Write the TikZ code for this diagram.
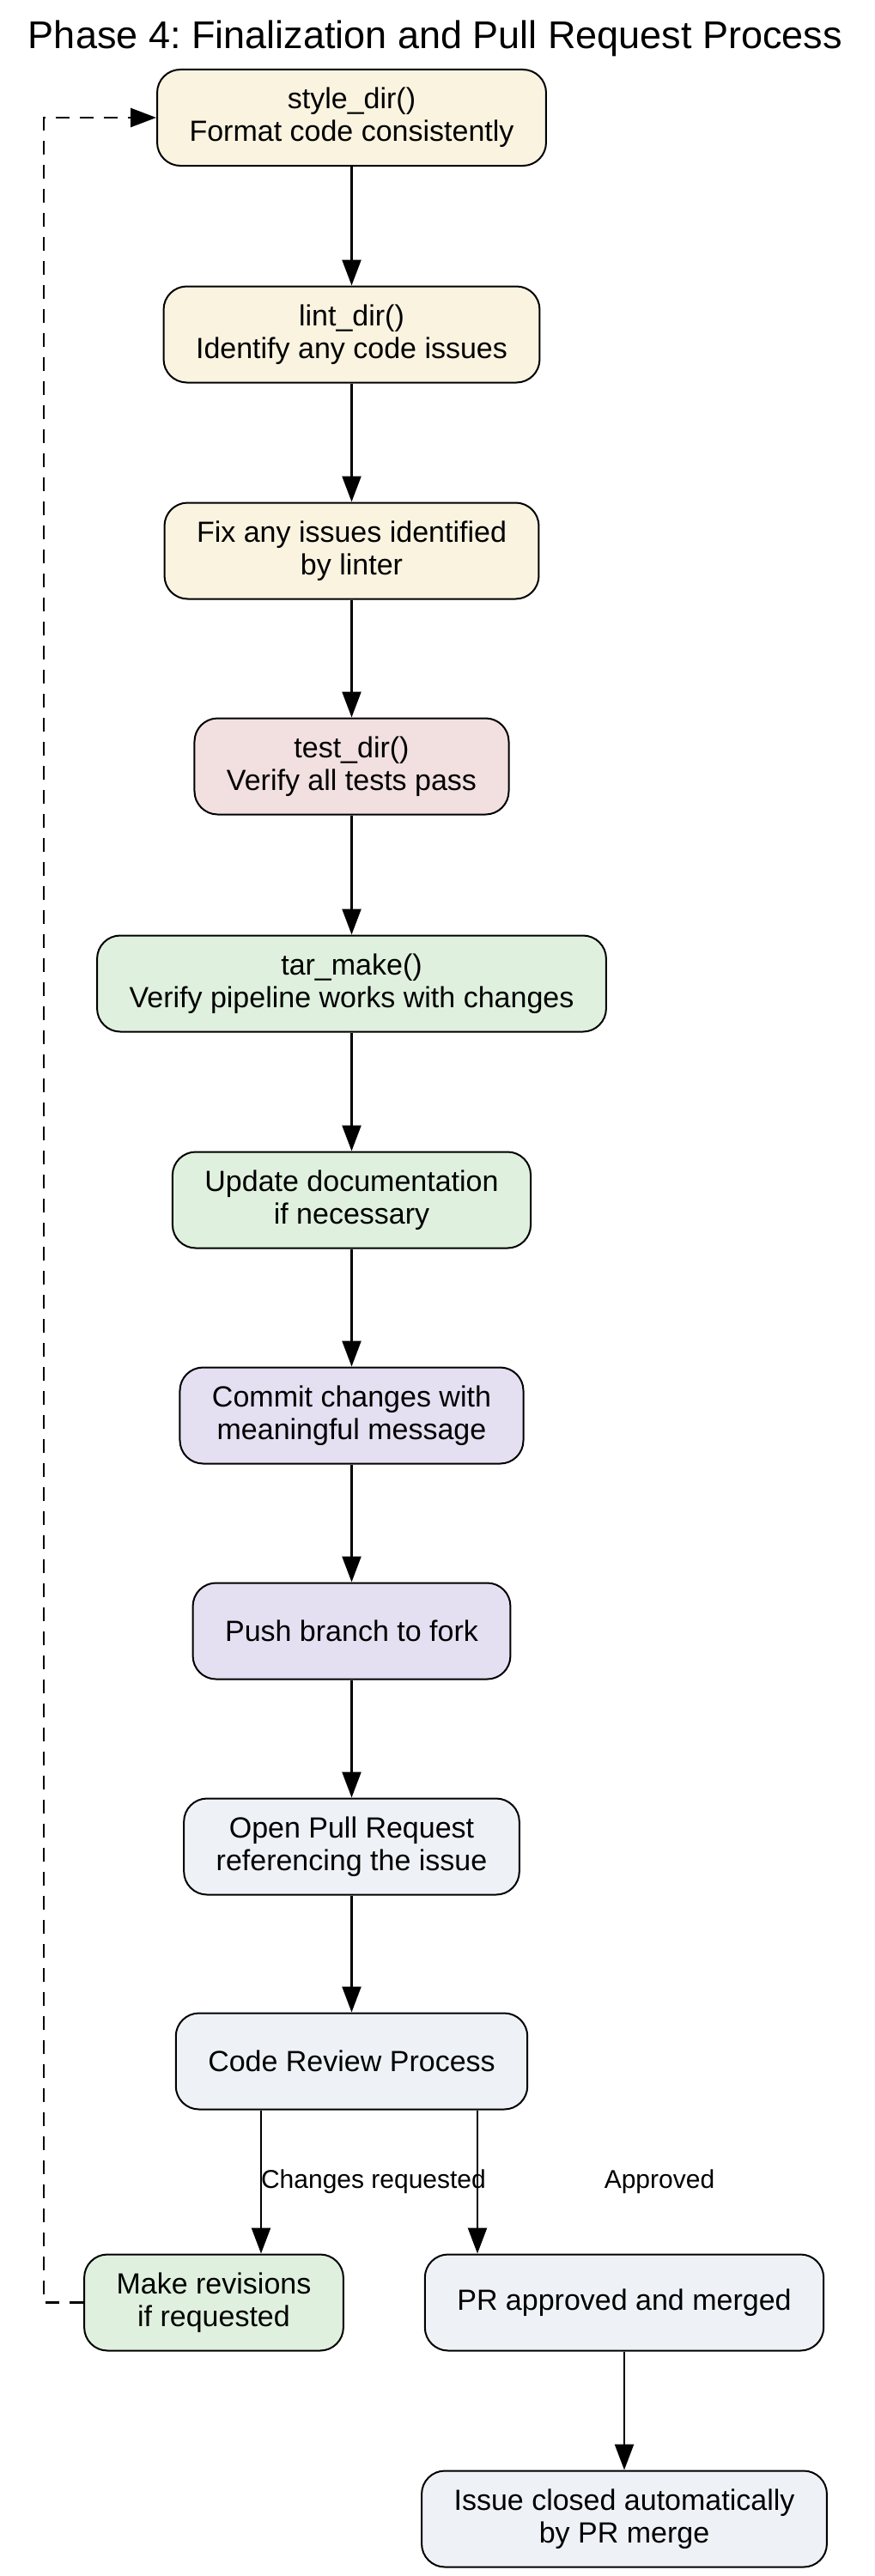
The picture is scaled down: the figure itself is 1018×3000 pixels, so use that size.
\documentclass[tikz,border=0pt]{standalone}
\usepackage{fontspec}
\setmainfont{Liberation Sans}
\usepackage{tikz}
\usetikzlibrary{arrows.meta,positioning,calc}
\usepackage{xcolor}
\frenchspacing

\definecolor{stylefill}{HTML}{F9F3E0}
\definecolor{testfill}{HTML}{F2DFE0}
\definecolor{pipefill}{HTML}{DFF1DE}
\definecolor{gitfill}{HTML}{E4E0F2}
\definecolor{prfill}{HTML}{EEF2F7}

\begin{document}
\begin{tikzpicture}[x=1pt, y=-1pt,
    stepbox/.style={draw=black, line width=2pt, rounded corners=27pt,
      minimum height=112pt, inner xsep=37.5pt, align=center,
      font=\fontsize{34}{38}\selectfont},
    edge/.style={line width=2.5pt, -{Triangle[length=30pt, width=22pt]}},
    loopedge/.style={edge, dash pattern=on 16pt off 12pt},
    edgelabel/.style={font=\fontsize{30}{34}\selectfont}]
  \useasboundingbox (0,0) rectangle (1018,3000);
  % Title
  \node[anchor=base, font=\fontsize{45}{50}\selectfont] (title) at (507,57)
    {Phase 4: Finalization and Pull Request Process};
  % Checks on the code
  \node[stepbox, fill=stylefill] (style) at (409.5,137)
    {style\_dir()\\Format code consistently};
  \node[stepbox, fill=stylefill] (lint) at (409.5,389.5)
    {lint\_dir()\\Identify any code issues};
  \node[stepbox, fill=stylefill] (fix) at (409.5,641.5)
    {Fix any issues identified\\by linter};
  \node[stepbox, fill=testfill] (test) at (409.5,892.5)
    {test\_dir()\\Verify all tests pass};
  \node[stepbox, fill=pipefill] (tar) at (409.5,1145.5)
    {tar\_make()\\Verify pipeline works with changes};
  \node[stepbox, fill=pipefill] (docs) at (409.5,1397.5)
    {Update documentation\\if necessary};
  % Git and pull request
  \node[stepbox, fill=gitfill] (commit) at (409.5,1648.5)
    {Commit changes with\\meaningful message};
  \node[stepbox, fill=gitfill] (push) at (409.5,1899.5)
    {Push branch to fork};
  \node[stepbox, fill=prfill] (openpr) at (409.5,2150.5)
    {Open Pull Request\\referencing the issue};
  \node[stepbox, fill=prfill] (review) at (409.5,2400.5)
    {Code Review Process};
  \node[stepbox, fill=pipefill] (revise) at (249,2681.5)
    {Make revisions\\if requested};
  \node[stepbox, fill=prfill] (merged) at (727,2681.5)
    {PR approved and merged};
  \node[stepbox, fill=prfill] (closed) at (727,2933.5)
    {Issue closed automatically\\by PR merge};
  % Main flow
  \draw[edge] (style) -- (lint);
  \draw[edge] (lint) -- (fix);
  \draw[edge] (fix) -- (test);
  \draw[edge] (test) -- (tar);
  \draw[edge] (tar) -- (docs);
  \draw[edge] (docs) -- (commit);
  \draw[edge] (commit) -- (push);
  \draw[edge] (push) -- (openpr);
  \draw[edge] (openpr) -- (review);
  % Review outcomes
  \draw[edge] ([xshift=-105.5pt]review.south) -- ([xshift=-105.5pt]review.south |- revise.north);
  \draw[edge] ([xshift=146.5pt]review.south) -- ([xshift=146.5pt]review.south |- merged.north);
  \node[edgelabel] (changeslabel) at (435,2541) {Changes requested};
  \node[edgelabel] (approvedlabel) at (768,2541) {Approved};
  \draw[edge] (merged) -- (closed);
  % Back to the start
  \draw[loopedge] (revise.west) -- ++(-46,0) |- (style.west);
\end{tikzpicture}
\end{document}
